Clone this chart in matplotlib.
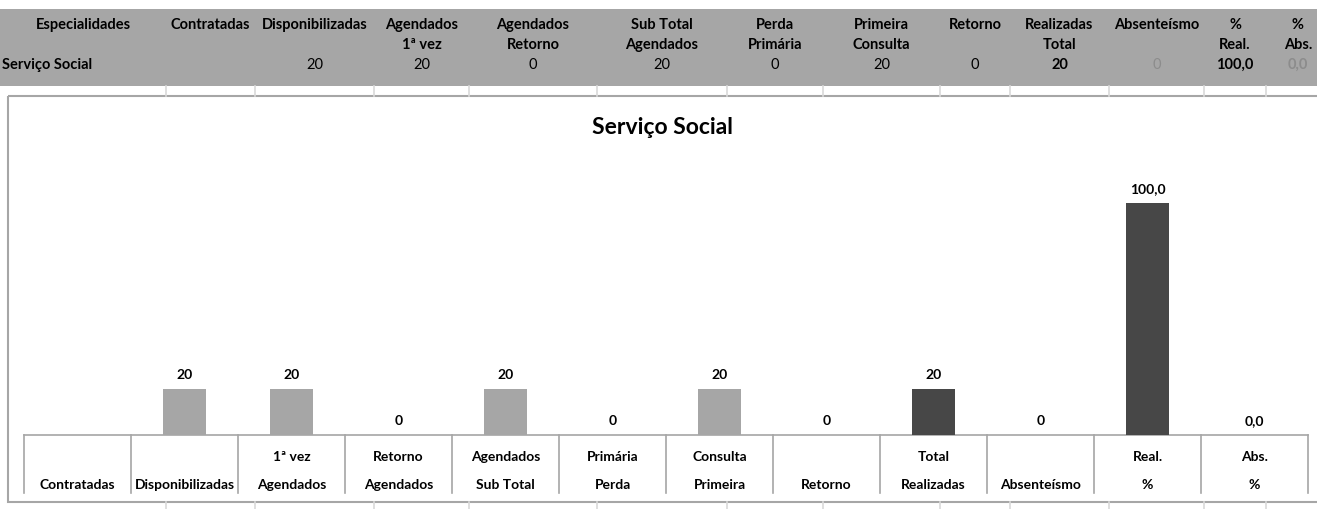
import numpy as np
import matplotlib
matplotlib.use("Agg")
import matplotlib.pyplot as plt
from matplotlib import transforms

plt.rcParams['font.family'] = ['Lato', 'DejaVu Sans']

# chart data
cat_top = ["", "", "1ª vez", "Retorno", "Agendados", "Primária", "Consulta",
           "", "Total", "", "Real.", "Abs."]
cat_bottom = ["Contratadas", "Disponibilizadas", "Agendados", "Agendados",
              "Sub Total", "Perda", "Primeira", "Retorno", "Realizadas",
              "Absenteísmo", "%", "%"]
values = [np.nan, 20, 20, 0, 20, 0, 20, 0, 20, 0, 100.0, 0.0]
is_pct = [False] * 10 + [True, True]
dark = [False] * 8 + [True] * 4

# spreadsheet header
head1 = ["Especialidades", "Contratadas", "Disponibilizadas", "Agendados",
         "Agendados", "Sub Total", "Perda", "Primeira", "Retorno",
         "Realizadas", "Absenteísmo", "%", "%"]
head2 = ["", "", "", "1ª vez", "Retorno", "Agendados", "Primária",
         "Consulta", "", "Total", "", "Real.", "Abs."]
row_name = "Serviço Social"


def fmt(v, pct):
    if np.isnan(v):
        return ""
    if pct:
        return f"{v:.1f}".replace(".", ",")
    return f"{v:.0f}"


labels = [fmt(v, p) for v, p in zip(values, is_pct)]

W, H = 1317, 509
fig = plt.figure(figsize=(W / 100, H / 100), dpi=100)
ov = fig.add_axes([0, 0, 1, 1])
ov.set_xlim(0, W)
ov.set_ylim(H, 0)
ov.axis('off')

# top sheet table
col_edges = [0, 166, 255, 374, 469, 597, 727, 823, 940, 1010, 1109, 1204, 1266, 1330]
ov.add_patch(plt.Rectangle((0, 9), W, 77, color='#A6A6A6', lw=0))
for i in range(len(head1)):
    cx = (col_edges[i] + col_edges[i + 1]) / 2
    ov.text(cx, 25, head1[i], ha='center', va='center', fontsize=10.5, fontweight='bold')
    ov.text(cx, 45, head2[i], ha='center', va='center', fontsize=10.5, fontweight='bold')
ov.text(2, 65, row_name, ha='left', va='center', fontsize=10.5, fontweight='bold')
for i, lbl in enumerate(labels):
    cx = (col_edges[i + 1] + col_edges[i + 2]) / 2
    weight = 'normal'
    color = 'black'
    if cat_bottom[i] in ("Realizadas",) or (is_pct[i] and cat_top[i] == "Real."):
        weight = 'bold'
    if cat_bottom[i] == "Absenteísmo" or cat_top[i] == "Abs.":
        color = '#8C8C8C'
        weight = 'bold' if is_pct[i] else 'normal'
    ov.text(cx, 65, lbl, ha='center', va='center', fontsize=10.5,
            fontweight=weight, color=color)
for x in col_edges[1:-1]:
    ov.plot([x, x], [86, 96], color='#D9D9D9', lw=1.2)
    ov.plot([x, x], [502, H], color='#D9D9D9', lw=1.2)

# chart frame
ov.add_patch(plt.Rectangle((8, 96), W, 406, fill=False, ec='#A6A6A6', lw=1.5))
ov.text(662, 127, "Serviço Social", ha='center', va='center', fontsize=16.5, fontweight='bold')

# bars
base, top = 435, 156.6
ax = fig.add_axes([24 / W, (H - base) / H, (1308 - 24) / W, (base - top) / H])
ax.patch.set_alpha(0)
ax.axis('off')
x = np.arange(len(values))
colors = ['#474747' if d else '#A6A6A6' for d in dark]
ax.bar(x, values, width=0.4, color=colors)
ax.set_xlim(-0.5, len(values) - 0.5)
ax.set_ylim(0, 120)
for i, v in enumerate(values):
    if np.isnan(v):
        continue
    ax.annotate(labels[i], (i, v), xytext=(0, 5.5), textcoords='offset points',
                ha='center', va='bottom', fontsize=10, fontweight='bold')

# category table under the bars
tr = transforms.blended_transform_factory(ax.transData, ov.transData)
n = len(values)
ov.plot([-0.5, n - 0.5], [base, base], color='#A6A6A6', lw=1.2, transform=tr)
for e in np.arange(n + 1) - 0.5:
    ov.plot([e, e], [base, 493], color='#A6A6A6', lw=1.2, transform=tr)
for i in range(n):
    ov.text(i, 457, cat_top[i], ha='center', va='center', fontsize=10,
            fontweight='bold', transform=tr)
    ov.text(i, 485, cat_bottom[i], ha='center', va='center', fontsize=10,
            fontweight='bold', transform=tr)

plt.savefig("out.png", dpi=100)
plt.close()
